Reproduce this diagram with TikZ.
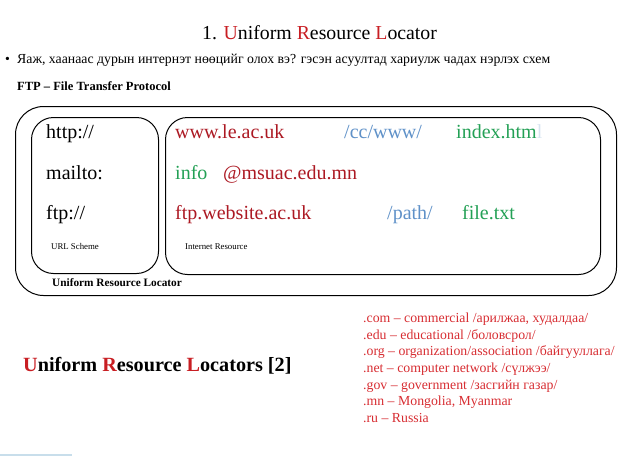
\documentclass[tikz,border=0pt]{standalone}
\usepackage{fontspec}
\setmainfont{Liberation Serif}
\definecolor{titlered}{RGB}{200,30,35}
\definecolor{urlred}{RGB}{172,25,35}
\definecolor{urlblue}{RGB}{95,145,200}
\definecolor{urlgreen}{RGB}{35,160,85}
\definecolor{listred}{RGB}{215,45,50}
\definecolor{fadel}{RGB}{215,228,240}
\definecolor{barblue}{RGB}{200,222,235}
\tikzset{
  txt/.style={inner sep=0pt, anchor=base west},
  box/.style={draw=black, line width=1pt, anchor=north west, inner sep=0pt},
  big/.style={txt, font=\fontsize{20}{24}\selectfont},
  tiny/.style={txt, font=\fontsize{8.8}{10}\selectfont},
  lst/.style={txt, text=listred, font=\fontsize{13.8}{16}\selectfont},
}
\begin{document}
\begin{tikzpicture}[x=1pt,y=-1pt]
\useasboundingbox (0,0) rectangle (638,456);
% title
\node[txt, font=\fontsize{19.8}{24}\selectfont] (title) at (202,39)
  {1. \textcolor{titlered}{U}niform \textcolor{titlered}{R}esource \textcolor{titlered}{L}ocator};
% bullet
\node[txt, font=\fontsize{13.8}{16}\selectfont] (bul) at (5,63) {•};
\node[txt, font=\fontsize{13.8}{16}\selectfont] (q) at (17,63)
  {Яаж, хаанаас дурын интернэт нөөцийг олох вэ? гэсэн асуултад хариулж чадах нэрлэх схем};
\node[txt, font=\bfseries\fontsize{12.5}{15}\selectfont] (ftp) at (17,90) {FTP – File Transfer Protocol};
% boxes
\node[box, rounded corners=28pt, minimum width=601pt, minimum height=189pt] (outer) at (15,106) {};
\node[box, rounded corners=22pt, minimum width=127pt, minimum height=156pt] (scheme) at (31,117) {};
\node[box, rounded corners=22pt, minimum width=435pt, minimum height=157pt] (res) at (165,117) {};
% scheme column
\node[big] (http) at (46,138) {http://};
\node[big] (mailto) at (46,179) {mailto:};
\node[big] (ftps) at (46,219) {ftp://};
\node[tiny] (urls) at (51,249) {URL Scheme};
% resource column
\node[big, text=urlred] (www) at (175,138) {www.le.ac.uk};
\node[big, text=urlblue] (ccw) at (344,138) {/cc/www/};
\node[big, text=urlgreen] (idx) at (456,138) {index.htm\textcolor{fadel}{l}};
\node[big, text=urlgreen] (info) at (175,179) {info};
\node[big, text=urlred] (msu) at (223,179) {@msuac.edu.mn};
\node[big, text=urlred] (ftpw) at (175,219) {ftp.website.ac.uk};
\node[big, text=urlblue] (path) at (387,219) {/path/};
\node[big, text=urlgreen] (file) at (462,219) {file.txt};
\node[tiny] (ires) at (185,249) {Internet Resource};
\node[txt, font=\bfseries\fontsize{11.3}{13}\selectfont] (url) at (52,286) {Uniform Resource Locator};
% bottom left heading
\node[txt, font=\bfseries\fontsize{20.2}{24}\selectfont] (urls2) at (23,371)
  {\textcolor{titlered}{U}niform \textcolor{titlered}{R}esource \textcolor{titlered}{L}ocators [2]};
% list
\node[lst] (l1) at (363,322.3) {.com – commercial /арилжаа, худалдаа/};
\node[lst] (l2) at (363,339) {.edu – educational /боловсрол/};
\node[lst] (l3) at (363,355.7) {.org – organization/association /байгууллага/};
\node[lst] (l4) at (363,372.3) {.net – computer network /сүлжээ/};
\node[lst] (l5) at (363,389) {.gov – government /засгийн газар/};
\node[lst] (l6) at (363,405.7) {.mn – Mongolia, Myanmar};
\node[lst] (l7) at (363,422.3) {.ru – Russia};
% faint bar
\fill[barblue] (0,453.5) rectangle (72,455.5);
\end{tikzpicture}
\end{document}
